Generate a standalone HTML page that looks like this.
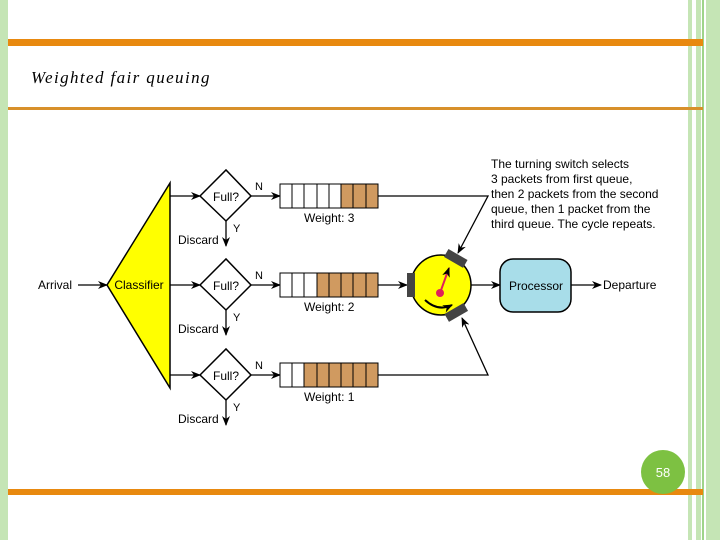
<!DOCTYPE html>
<html><head><style>body{margin:0}svg{display:block}</style></head><body>
<svg width="720" height="540" xmlns="http://www.w3.org/2000/svg" font-family="Liberation Sans, sans-serif">
<defs><marker id="a" markerWidth="10" markerHeight="8" refX="9" refY="4" orient="auto" markerUnits="userSpaceOnUse"><path d="M0,0 L10,4 L0,8 L3,4z" fill="#000"/></marker></defs>
<rect width="720" height="540" fill="#fff"/>
<rect x="0" y="0" width="8" height="540" fill="#c5e5b5"/>
<rect x="688" y="0" width="4" height="540" fill="#c5e5b5"/>
<rect x="696" y="0" width="5" height="540" fill="#c5e5b5"/>
<rect x="702" y="0" width="2" height="540" fill="#9fd48a"/>
<rect x="706" y="0" width="14" height="540" fill="#c5e5b5"/>
<rect x="8" y="39" width="695" height="7" fill="#e8890f"/>
<rect x="8" y="107" width="695" height="3" fill="#d8902a"/>
<rect x="8" y="489" width="695" height="6" fill="#e8890f"/>
<text x="31" y="83" font-family="Liberation Serif, serif" font-style="italic" font-size="17" style="letter-spacing:1.4px">Weighted fair queuing</text>
<circle cx="663" cy="472" r="22" fill="#7dc142"/>
<text x="663" y="477" font-size="13" fill="#fff" text-anchor="middle">58</text>
<polygon points="170,183 170,388 107,285" fill="#ffff00" stroke="#000" stroke-width="1.5"/>
<text x="139" y="289" font-size="12" text-anchor="middle">Classifier</text>
<text x="38" y="289" font-size="12">Arrival</text>
<line x1="78" y1="285" x2="107" y2="285" stroke="#000" stroke-width="1.3" marker-end="url(#a)"/>
<g id="r">
<line x1="170" y1="196" x2="200" y2="196" stroke="#000" stroke-width="1.3" marker-end="url(#a)"/>
<polygon points="200,196 226,170 251,196 226,221" fill="#fff" stroke="#000" stroke-width="1.5"/>
<text x="226" y="201" font-size="12" text-anchor="middle">Full?</text>
<text x="255" y="190" font-size="11">N</text>
<line x1="251" y1="196" x2="280" y2="196" stroke="#000" stroke-width="1.3" marker-end="url(#a)"/>
<line x1="226" y1="221" x2="226" y2="246" stroke="#000" stroke-width="1.3" marker-end="url(#a)"/>
<text x="233" y="232" font-size="11">Y</text>
<text x="178" y="244" font-size="12">Discard</text>
</g>
<use href="#r" y="89"/><use href="#r" y="179"/>
<g stroke="#000" stroke-width="1">
<rect x="280" y="184" width="98" height="24" fill="#fff"/>
<rect x="341" y="184" width="37" height="24" fill="#d09a60"/>
<path d="M292 184v24M304 184v24M317 184v24M329 184v24M341 184v24M353 184v24M366 184v24"/>
<rect x="280" y="273" width="98" height="24" fill="#fff"/>
<rect x="317" y="273" width="61" height="24" fill="#d09a60"/>
<path d="M292 273v24M304 273v24M317 273v24M329 273v24M341 273v24M353 273v24M366 273v24"/>
<rect x="280" y="363" width="98" height="24" fill="#fff"/>
<rect x="304" y="363" width="74" height="24" fill="#d09a60"/>
<path d="M292 363v24M304 363v24M317 363v24M329 363v24M341 363v24M353 363v24M366 363v24"/>
</g>
<text x="304" y="222" font-size="12">Weight: 3</text>
<text x="304" y="311" font-size="12">Weight: 2</text>
<text x="304" y="401" font-size="12">Weight: 1</text>
<path d="M378 196 H488 L458 253" fill="none" stroke="#000" stroke-width="1.3" marker-end="url(#a)"/>
<line x1="378" y1="285" x2="407" y2="285" stroke="#000" stroke-width="1.3" marker-end="url(#a)"/>
<path d="M378 375 H488 L462 318" fill="none" stroke="#000" stroke-width="1.3" marker-end="url(#a)"/>
<circle cx="441" cy="285" r="30" fill="#ffff00" stroke="#000" stroke-width="1.5"/>
<rect x="407" y="273" width="8" height="24" fill="#444"/>
<rect x="445" y="254" width="22" height="9" fill="#444" transform="rotate(30 456 258)"/>
<rect x="445" y="308" width="22" height="9" fill="#444" transform="rotate(-30 456 312)"/>
<line x1="440" y1="293" x2="449" y2="268" stroke="#e0205a" stroke-width="2" marker-end="url(#a)"/>
<circle cx="440" cy="293" r="4" fill="#e0205a"/>
<path d="M425 300 Q438 312 452 305" fill="none" stroke="#000" stroke-width="2" marker-end="url(#a)"/>
<line x1="471" y1="285" x2="500" y2="285" stroke="#000" stroke-width="1.3" marker-end="url(#a)"/>
<rect x="500" y="259" width="71" height="53" rx="13" fill="#a8dde9" stroke="#000" stroke-width="1.5"/>
<text x="536" y="290" font-size="12" text-anchor="middle">Processor</text>
<line x1="571" y1="285" x2="601" y2="285" stroke="#000" stroke-width="1.3" marker-end="url(#a)"/>
<text x="603" y="289" font-size="12">Departure</text>
<g font-size="12"><text x="491" y="168">The turning switch selects</text><text x="491" y="183">3 packets from first queue,</text><text x="491" y="198">then 2 packets from the second</text><text x="491" y="213">queue, then 1 packet from the</text><text x="491" y="228">third queue. The cycle repeats.</text></g>
</svg>
</body></html>
